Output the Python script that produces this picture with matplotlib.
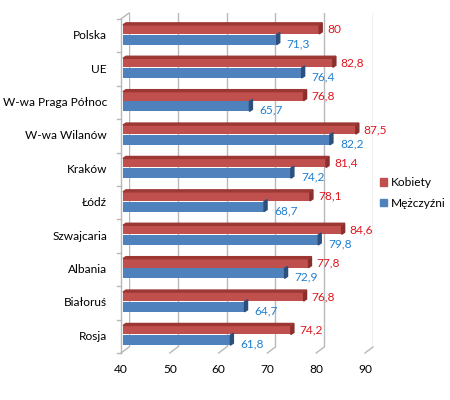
import matplotlib
matplotlib.use('Agg')
import matplotlib.pyplot as plt
from matplotlib.patches import Polygon, Patch

categories = ['Polska', 'UE', 'W-wa Praga Północ', 'W-wa Wilanów', 'Kraków',
              'Łódź', 'Szwajcaria', 'Albania', 'Białoruś', 'Rosja']
kobiety = [80, 82.8, 76.8, 87.5, 81.4, 78.1, 84.6, 77.8, 76.8, 74.2]
mezczyzni = [71.3, 76.4, 65.7, 82.2, 74.2, 68.7, 79.8, 72.9, 64.7, 61.8]
x_ticks = [40, 50, 60, 70, 80, 90]
series_names = ['Kobiety', 'Mężczyźni']

plt.rcParams['font.family'] = ['Lato', 'DejaVu Sans']
fs = 8.6

W, H = 450, 400
fig = plt.figure(figsize=(W / 100, H / 100), dpi=100)
# back wall of the pseudo 3d box, in pixels
bx, by, bw, bh = 129, 53, 244, 334
ax = fig.add_axes([bx / W, by / H, bw / W, bh / H])
ax.set_xlim(x_ticks[0], x_ticks[-1])
ax.set_ylim(len(categories) - 0.5, -0.5)
ax.axis('off')

ux = (x_ticks[-1] - x_ticks[0]) / bw   # data units per pixel
uy = len(categories) / bh
ddx, ddy = 8 * ux, 6 * uy              # front wall shift

grid_c = '#b8b8b8'
x0 = x_ticks[0]
y_top, y_bot = -0.5, len(categories) - 0.5

for t in x_ticks:
    ax.plot([t, t], [y_top, y_bot], color=grid_c, lw=1, zorder=1)
    ax.plot([t, t - ddx], [y_bot, y_bot + ddy], color=grid_c, lw=1,
            clip_on=False, zorder=1)
    ax.text(t - ddx, y_bot + ddy + 17 * uy, str(t), ha='center', va='center',
            fontsize=fs, clip_on=False)

# left side wall
ax.plot([x0, x0 - ddx], [y_top, y_top + ddy], color=grid_c, lw=1, clip_on=False)
ax.plot([x0 - ddx, x0 - ddx], [y_top + ddy, y_bot + ddy], color=grid_c, lw=1,
        clip_on=False, zorder=1)
for k in range(len(categories) + 1):
    yk = k - 0.5 + ddy
    ax.plot([x0 - ddx - 4 * ux, x0 - ddx], [yk, yk], color=grid_c, lw=1,
            clip_on=False)

red, red_top, red_cap = '#c0504d', '#9c3734', '#8a2f2d'
blue, blue_cap = '#4f81bd', '#2c4f7c'
red_txt, blue_txt = '#e0141e', '#1f7fd0'

left = x0 - 6 * ux
cap_w = 3 * ux
lift = 2 * uy
h_red, h_blue = 0.27, 0.30


def draw_bar(yc, h, v, face, cap, top=None):
    end = v - 2 * ux
    ax.barh(yc, end - cap_w - left, height=h, left=left, color=face,
            clip_on=False, zorder=3)
    t, b = yc - h / 2, yc + h / 2
    ax.add_patch(Polygon([(end - cap_w, t), (end, t - lift), (end, b - lift),
                          (end - cap_w, b)], closed=True, color=cap,
                         clip_on=False, zorder=3))
    if top is not None:
        ax.add_patch(Polygon([(left, t), (end - cap_w, t), (end, t - lift),
                              (left + cap_w, t - lift)], closed=True,
                             color=top, clip_on=False, zorder=3))
    return end


for i, name in enumerate(categories):
    ax.text(x0 - ddx - 14 * ux, i + ddy, name, ha='right', va='center',
            fontsize=fs, clip_on=False)
    yr = i - 0.01
    yb = yr + h_red / 2 + h_blue / 2 + 0.02
    e = draw_bar(yr, h_red, kobiety[i], red, red_cap, red_top)
    ax.text(e + 5 * ux, yr, f'{kobiety[i]:g}'.replace('.', ','), color=red_txt,
            ha='left', va='center', fontsize=fs, clip_on=False)
    e = draw_bar(yb, h_blue, mezczyzni[i], blue, blue_cap)
    ax.text(e + 7 * ux, yb + 4 * uy, f'{mezczyzni[i]:g}'.replace('.', ','),
            color=blue_txt, ha='left', va='center', fontsize=fs, clip_on=False)

handles = [Patch(color=red, label=series_names[0]),
           Patch(color=blue, label=series_names[1])]
fig.legend(handles=handles, loc='center left',
           bbox_to_anchor=(380 / W, 1 - 193 / H), frameon=False,
           handlelength=0.6, handleheight=0.6, handletextpad=0.3,
           labelspacing=0.8, fontsize=fs, borderpad=0, borderaxespad=0)

fig.savefig('out.png', dpi=100)
